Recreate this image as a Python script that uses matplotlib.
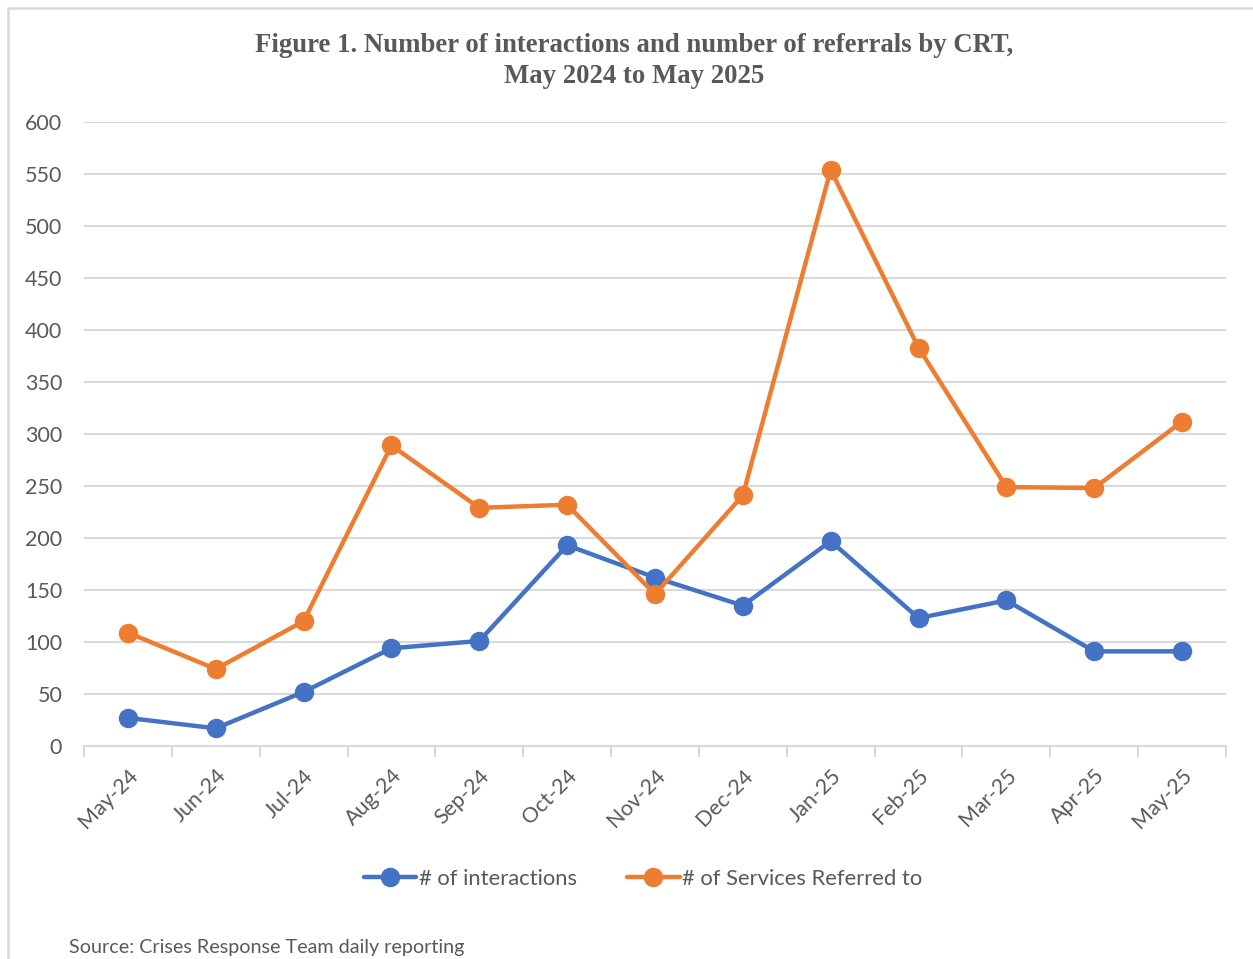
import matplotlib.pyplot as plt
from matplotlib.patches import Rectangle

months = ['May-24', 'Jun-24', 'Jul-24', 'Aug-24', 'Sep-24', 'Oct-24', 'Nov-24',
          'Dec-24', 'Jan-25', 'Feb-25', 'Mar-25', 'Apr-25', 'May-25']
interactions = [27, 17, 52, 94, 101, 193, 162, 135, 197, 123, 140, 91, 91]
referrals = [109, 74, 120, 289, 229, 232, 146, 241, 554, 383, 249, 248, 312]

BLUE = '#4472C4'
ORANGE = '#ED7D31'
GREY_TXT = '#595959'
GRID = '#D9D9D9'

plt.rcParams['font.family'] = ['Lato', 'DejaVu Sans']

fig = plt.figure(figsize=(12.53, 9.59), dpi=100)
ax = fig.add_axes([84 / 1253, 1 - 746 / 959, (1226 - 84) / 1253, (746 - 122) / 959])

x = list(range(len(months)))
ax.plot(x, interactions, color=BLUE, lw=3.2, marker='o', ms=13, label='# of interactions',
        solid_capstyle='round', zorder=3)
ax.plot(x, referrals, color=ORANGE, lw=3.2, marker='o', ms=13, label='# of Services Referred to',
        solid_capstyle='round', zorder=3)

ax.set_xlim(-0.5, len(months) - 0.5)
ax.set_ylim(0, 600)
ax.set_yticks(range(0, 601, 50))
ax.grid(axis='y', color=GRID, lw=1.5)
ax.set_axisbelow(True)
for s in ['top', 'right', 'left']:
    ax.spines[s].set_visible(False)
ax.spines['bottom'].set_color(GRID)
ax.spines['bottom'].set_linewidth(1.5)

# category labels centred, tick marks on the boundaries
ax.set_xticks(x)
ax.set_xticklabels(months, rotation=45, ha='right', rotation_mode='anchor')
ax.tick_params(axis='x', which='major', length=0, pad=14, labelsize=15.5, labelcolor=GREY_TXT)
ax.set_xticks([i - 0.5 for i in range(len(months) + 1)], minor=True)
ax.tick_params(axis='x', which='minor', length=8, width=1.5, color=GRID, direction='out')
ax.tick_params(axis='y', length=0, pad=15.7, labelsize=15.5, labelcolor=GREY_TXT)

fig.text(0.506, 1 - 61 / 959,
         'Figure 1. Number of interactions and number of referrals by CRT,\nMay 2024 to May 2025',
         ha='center', va='center', family='Liberation Serif', weight='bold', size=19.3,
         color=GREY_TXT, linespacing=1.3)

ax.legend(loc='center', bbox_to_anchor=(643 / 1253, 1 - 879 / 959), bbox_transform=fig.transFigure,
          ncol=2, frameon=False, fontsize=15.8, labelcolor=GREY_TXT, handlelength=2.4,
          handletextpad=0.1, columnspacing=2.3)

fig.text(69 / 1253, 1 - 948 / 959, 'Source: Crises Response Team daily reporting',
         ha='left', va='center', size=14.2, color=GREY_TXT)

# chart area border
fig.patches.append(Rectangle((8 / 1253, -0.1), 1.2, 1 - 8 / 959 + 0.1, transform=fig.transFigure,
                             fill=False, edgecolor=GRID, lw=1.8, figure=fig))

fig.savefig('out.png', dpi=100)
